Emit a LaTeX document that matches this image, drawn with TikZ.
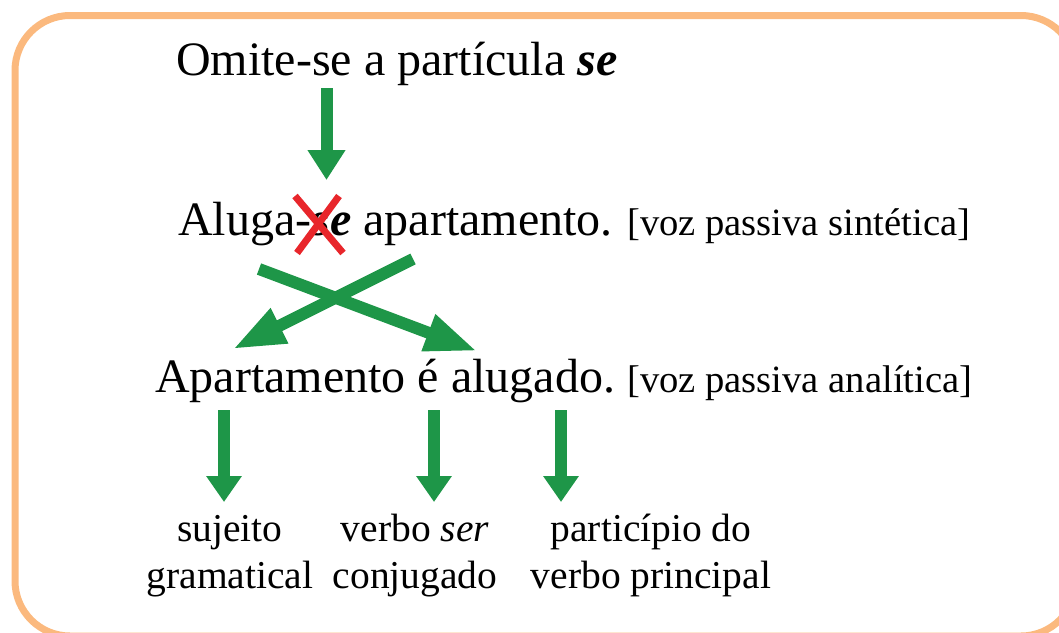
\documentclass[tikz,border=0pt]{standalone}
\usepackage{fontspec}
\setmainfont{Liberation Serif}
\usetikzlibrary{arrows.meta}
\definecolor{bordo}{RGB}{251,185,126}
\definecolor{verde}{RGB}{30,150,72}
\definecolor{rojo}{RGB}{232,38,43}
\tikzset{
  big/.style={inner sep=0pt, font=\fontsize{48}{58}\selectfont, anchor=base west},
  mid/.style={inner sep=0pt, font=\fontsize{38.6}{46}\selectfont, anchor=base west},
  small/.style={inner sep=0pt, font=\fontsize{39.5}{47}\selectfont, anchor=base},
  vert/.style={draw=verde, line width=12pt, -{Triangle[width=34pt,length=26pt]}},
  diag/.style={draw=verde, line width=12pt, -{Triangle[width=36pt,length=52pt]}},
  cross/.style={draw=rojo, line width=7pt},
}
\begin{document}
\begin{tikzpicture}[x=1pt,y=-1pt]
\useasboundingbox (0,0) rectangle (1059,632);
\clip (0,0) rectangle (1059,632);
\draw[bordo, line width=7pt, rounded corners=55pt] (15,15.5) rectangle (1076,636);

\node[big] (t1) at (176,75) {Omite-se a partícula \textbf{\textit{se}}};
\node[big] (t2) at (178,235) {Aluga-\textbf{\textit{se}} apartamento.};
\node[mid] (t2b) at (627,235) {[voz passiva sintética]};
\node[big] (t3) at (155,392) {Apartamento é alugado.};
\node[mid] (t3b) at (627,392) {[voz passiva analítica]};

\node[small] (a1) at (230,541) {sujeito};
\node[small] (a2) at (230,588) {gramatical};
\node[small] (b1) at (415,541) {verbo \textit{ser}};
\node[small] (b2) at (415,588) {conjugado};
\node[small] (c1) at (651,541) {particípio do};
\node[small] (c2) at (651,588) {verbo principal};

% red X over "se"
\coordinate (x1) at (295,196);
\coordinate (x2) at (343,253);
\coordinate (x3) at (339,196);
\coordinate (x4) at (297,253);
\draw[cross] (x1) -- (x2);
\draw[cross] (x3) -- (x4);

% arrows
\coordinate (s0) at (326.5,88);
\coordinate (e0) at (326.5,180);
\draw[vert, -{Triangle[width=36pt,length=30pt]}] (s0) -- (e0);

\coordinate (sA) at (413,259);
\coordinate (eA) at (233,349);
\coordinate (sB) at (259,269);
\coordinate (eB) at (477,351);
\draw[diag] (sA) -- (eA);
\draw[diag] (sB) -- (eB);

\coordinate (s1) at (224,410);
\coordinate (e1) at (224,502);
\coordinate (s2) at (434,410);
\coordinate (e2) at (434,502);
\coordinate (s3) at (561,410);
\coordinate (e3) at (561,502);
\draw[vert] (s1) -- (e1);
\draw[vert] (s2) -- (e2);
\draw[vert] (s3) -- (e3);
\end{tikzpicture}
\end{document}
